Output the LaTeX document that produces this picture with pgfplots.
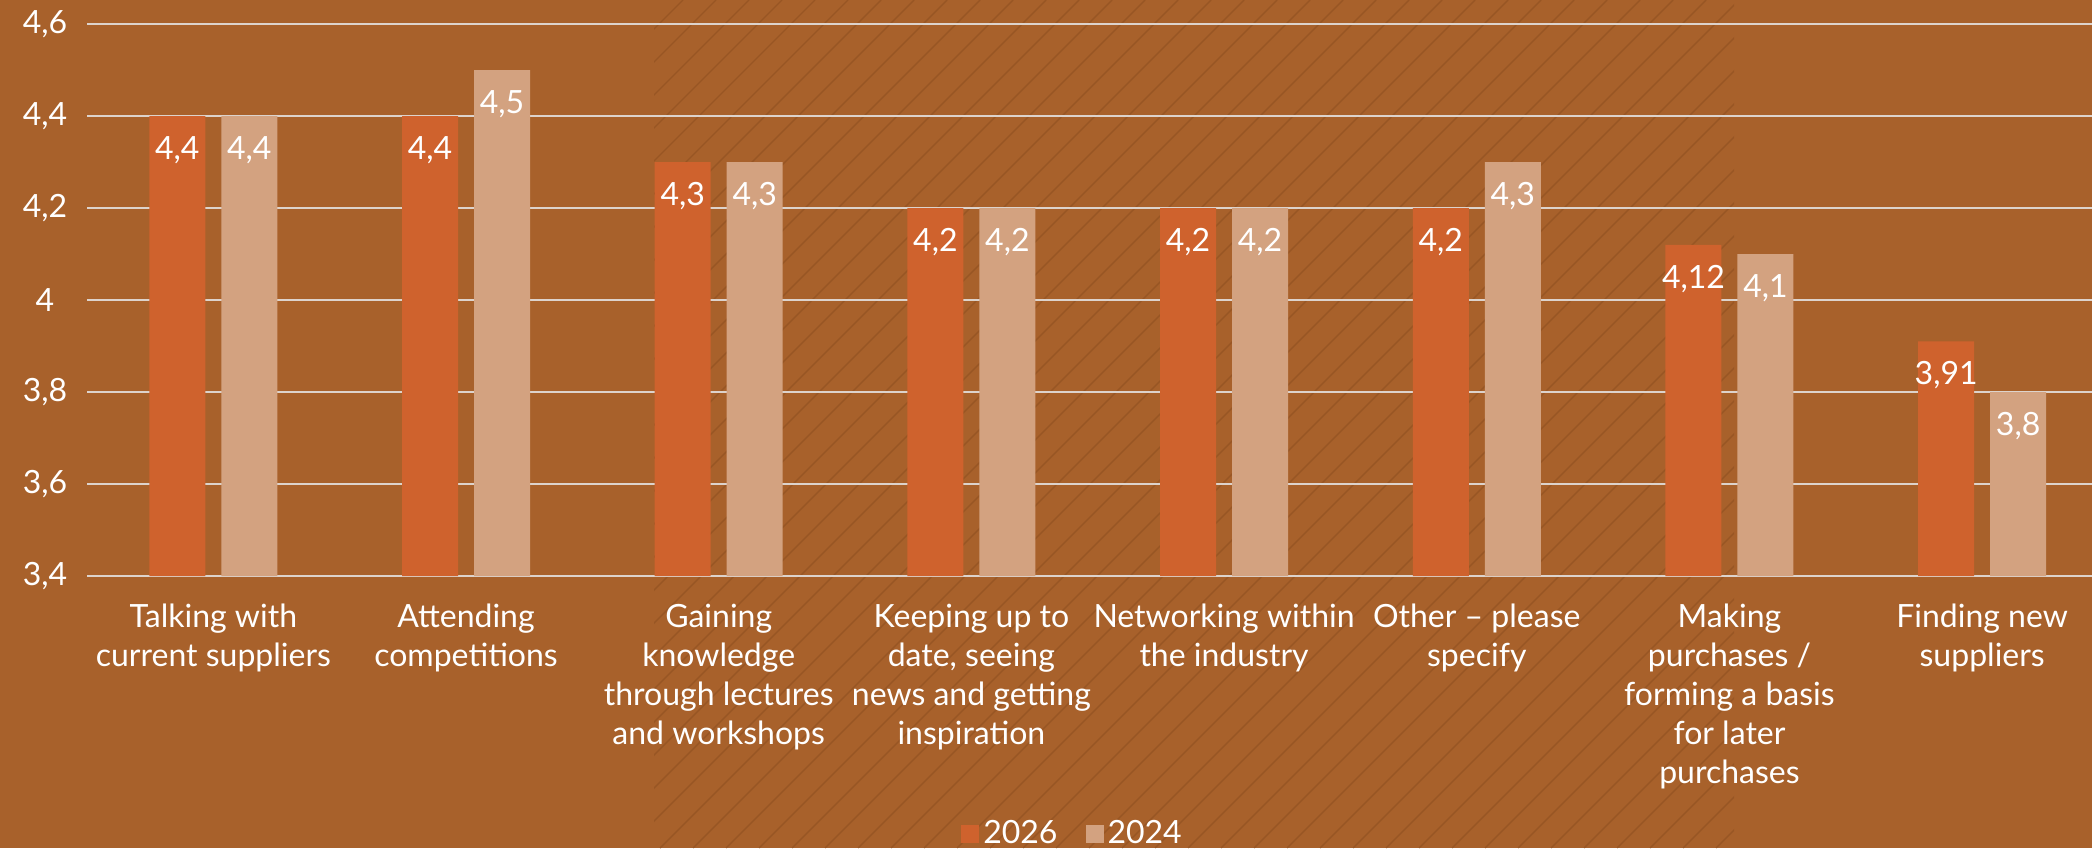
\documentclass[border=0pt]{standalone}
\usepackage{pgfplots}
\pgfplotsset{compat=1.18}
\usepackage{fontspec}
\setmainfont{Lato}
\definecolor{bg}{HTML}{A8612B}
\definecolor{hatch}{HTML}{8E4F20}
\definecolor{cA}{HTML}{CF622D}
\definecolor{cB}{HTML}{D3A280}
\definecolor{gridc}{HTML}{DDD3CC}
\begin{document}
\begin{tikzpicture}
\fill[bg] (0pt,0pt) rectangle (1046pt,424pt);
\begin{scope}
\clip (327pt,0pt) rectangle (867pt,424pt);
\foreach \i in {-7,...,54} {
  \draw[hatch, line width=0.7pt, opacity=0.6] (\i*16.5pt,0pt) -- ++(424pt,424pt);
}
\end{scope}
\begin{axis}[
  at={(43.5pt,136pt)}, anchor=south west,
  width=1010.8pt, height=276pt, scale only axis,
  ybar, bar width=28pt, ybar=8pt,
  xmin=-0.5, xmax=7.5, ymin=3.4, ymax=4.6,
  ytick={3.4,3.6,3.8,4.0,4.2,4.4,4.6},
  xtick={0,...,7},
  xticklabels={{Talking with\\current suppliers},{Attending\\competitions},{Gaining\\knowledge\\through lectures\\and workshops},{Keeping up to\\date, seeing\\news and getting\\inspiration},{Networking within\\the industry},{Other – please\\specify},{Making\\purchases /\\forming a basis\\for later\\purchases},{Finding new\\suppliers}},
  /pgf/number format/use comma,
  /pgf/number format/fixed,
  /pgf/number format/precision=2,
  /pgf/number format/assume math mode=true,
  axis line style={draw=none},
  major tick length=0pt,
  ymajorgrids, grid style={gridc, line width=0.8pt},
  font=\fontsize{16}{19.4}\selectfont,
  xticklabel style={align=center, text=white, anchor=north, inner sep=0pt, yshift=-14pt},
  yticklabel style={text=white, anchor=center, xshift=-21pt},
  nodes near coords={\pgfmathprintnumber{\pgfplotspointmeta}},
  every node near coord/.append style={anchor=north, text=white, inner sep=0pt, yshift=-10pt, font=\fontsize{16}{19}\selectfont},
  legend style={at={(0.488,-0.467)}, anchor=center, draw=none, fill=none, text=white, legend columns=-1, font=\fontsize{16}{19}\selectfont,
    /tikz/every even column/.append style={column sep=12pt}},
  legend image code/.code={\fill[#1] (0pt,-4.5pt) rectangle (9pt,4.5pt);},
]
\addplot[fill=cA, draw=none] coordinates {(0,4.4)(1,4.4)(2,4.3)(3,4.2)(4,4.2)(5,4.2)(6,4.12)(7,3.91)};
\addplot[fill=cB, draw=none] coordinates {(0,4.4)(1,4.5)(2,4.3)(3,4.2)(4,4.2)(5,4.3)(6,4.1)(7,3.8)};
\legend{2026,2024}
\end{axis}
\pgfresetboundingbox
\path (0pt,0pt) rectangle (1046pt,424pt);
\end{tikzpicture}
\end{document}
